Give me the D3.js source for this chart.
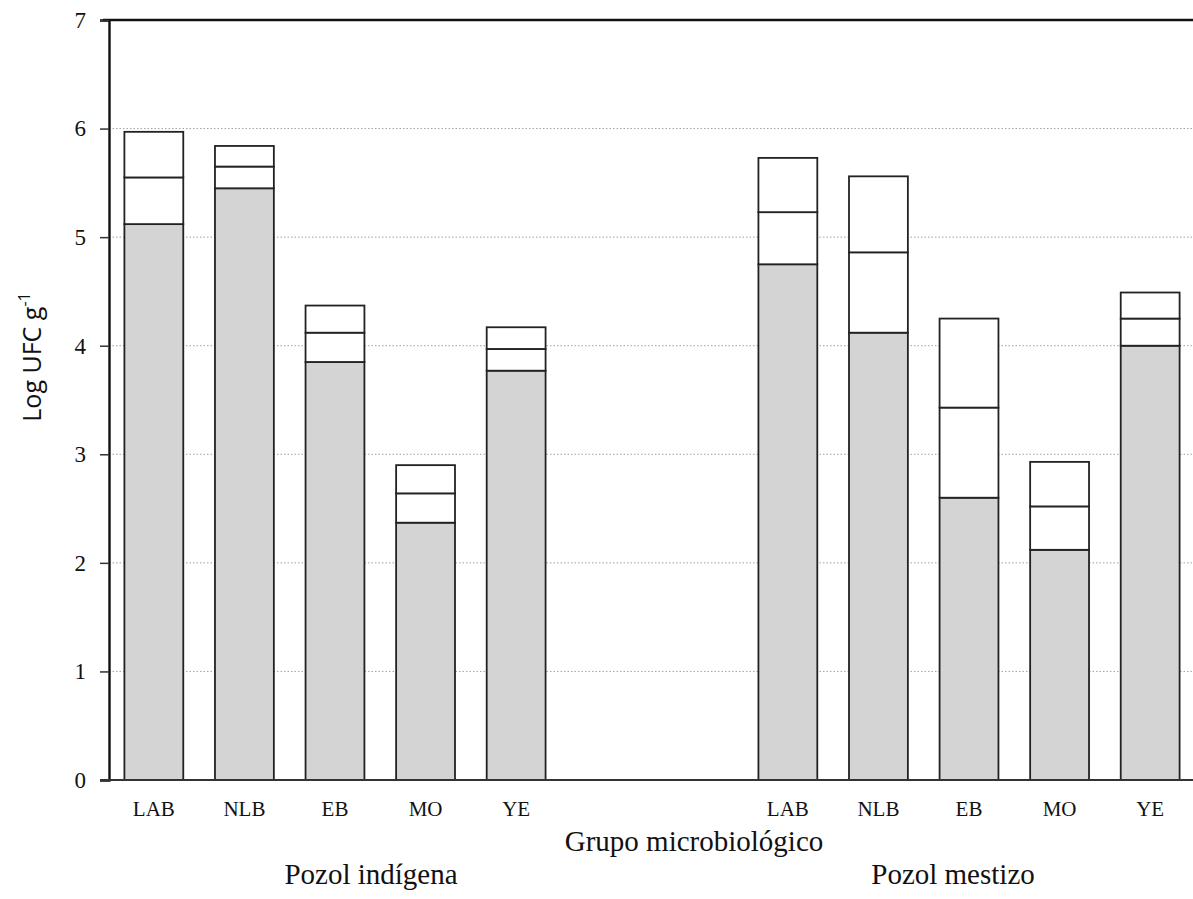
<!DOCTYPE html>
<html>
<head>
<meta charset="utf-8">
<script src="https://cdn.jsdelivr.net/npm/d3@7"></script>
<style>
  body { margin: 0; background: #fff; }
  .tick text { font-family: "Liberation Serif", "Times New Roman", serif; }
</style>
</head>
<body>
<div id="chart"></div>
<script>
// grupos microbiológicos
const grupos = ["LAB", "NLB", "EB", "MO", "YE"];
const pozoles = ["Pozol indígena", "Pozol mestizo"];
// niveles acumulados (Log UFC g-1): base gris, línea media, tope
const indigenaBase  = [5.12, 5.45, 3.85, 2.37, 3.77];
const indigenaMedio = [5.55, 5.65, 4.12, 2.64, 3.97];
const indigenaTope  = [5.97, 5.84, 4.37, 2.90, 4.17];
const mestizoBase   = [4.75, 4.12, 2.60, 2.12, 4.00];
const mestizoMedio  = [5.23, 4.86, 3.43, 2.52, 4.25];
const mestizoTope   = [5.73, 5.56, 4.25, 2.93, 4.49];
const yTicks = [0, 1, 2, 3, 4, 5, 6, 7];

const w = 1193, h = 899;
const padL = 109, padR = 1195, padT = 20, padB = 780;

const rows = [];
grupos.forEach((g, i) => rows.push({key: "i-" + g, label: g, base: indigenaBase[i], medio: indigenaMedio[i], tope: indigenaTope[i]}));
const slots = rows.map(d => d.key).concat(["gap1", "gap2"]);
grupos.forEach((g, i) => {
  rows.push({key: "m-" + g, label: g, base: mestizoBase[i], medio: mestizoMedio[i], tope: mestizoTope[i]});
  slots.push("m-" + g);
});

const svg = d3.select("#chart").append("svg")
  .attr("width", w).attr("height", h);

const xScale = d3.scaleBand()
  .domain(slots)
  .range([padL, padR])
  .paddingInner(0.35)
  .paddingOuter(0.17);

const yScale = d3.scaleLinear()
  .domain([0, 7])
  .range([padB, padT]);

// gridlines
svg.append("g")
  .selectAll("line")
  .data(yTicks.filter(t => t > 0 && t < 7))
  .join("line")
  .attr("x1", padL).attr("x2", w)
  .attr("y1", d => yScale(d)).attr("y2", d => yScale(d))
  .attr("stroke", "#a0a0a0")
  .attr("stroke-width", 1)
  .attr("stroke-dasharray", "1.5,2");

// bars
const bars = svg.append("g").selectAll("g").data(rows).join("g");
const segs = d => [
  {y0: 0, y1: d.base, fill: "#d4d4d4"},
  {y0: d.base, y1: d.medio, fill: "#fff"},
  {y0: d.medio, y1: d.tope, fill: "#fff"}
];
bars.selectAll("rect")
  .data(d => segs(d).map(s => Object.assign({key: d.key}, s)))
  .join("rect")
  .attr("x", s => xScale(s.key))
  .attr("width", xScale.bandwidth())
  .attr("y", s => yScale(s.y1))
  .attr("height", s => yScale(s.y0) - yScale(s.y1))
  .attr("fill", s => s.fill)
  .attr("stroke", "#222")
  .attr("stroke-width", 1.8);

// top frame line
svg.append("line")
  .attr("x1", padL - 6).attr("x2", w)
  .attr("y1", yScale(7)).attr("y2", yScale(7))
  .attr("stroke", "#111").attr("stroke-width", 2.4);

// y axis
const yAxis = d3.axisLeft(yScale).tickValues(yTicks).tickSize(9).tickPadding(14).tickFormat(d3.format("d"));
const ya = svg.append("g")
  .attr("transform", "translate(" + padL + ",0)")
  .call(yAxis);
ya.select(".domain").attr("stroke", "#111").attr("stroke-width", 2.4);
ya.selectAll(".tick line").attr("stroke", "#333").attr("stroke-width", 1.5);
ya.selectAll(".tick text").style("font-size", "23px").attr("fill", "#111");

// x axis
const xAxis = d3.axisBottom(xScale)
  .tickValues(rows.map(d => d.key))
  .tickFormat(k => rows.find(r => r.key === k).label)
  .tickSize(0).tickPadding(21);
const xa = svg.append("g")
  .attr("transform", "translate(0," + padB + ")")
  .call(xAxis);
xa.select(".domain").remove();
xa.selectAll(".tick text").style("font-size", "21px").attr("fill", "#111");
svg.append("line")
  .attr("x1", padL - 9).attr("x2", w)
  .attr("y1", padB).attr("y2", padB)
  .attr("stroke", "#333").attr("stroke-width", 1.8);

// titles
svg.append("text")
  .attr("x", 694).attr("y", 851)
  .attr("text-anchor", "middle")
  .style("font-family", "'Liberation Serif', serif")
  .style("font-size", "29px")
  .attr("fill", "#111")
  .text("Grupo microbiológico");

const groupCenter = idx => {
  const ks = rows.slice(idx * 5, idx * 5 + 5).map(d => d.key);
  return (xScale(ks[0]) + xScale(ks[4]) + xScale.bandwidth()) / 2;
};
svg.append("g").selectAll("text")
  .data(pozoles)
  .join("text")
  .attr("x", (d, i) => groupCenter(i) + (i === 0 ? 36 : -16))
  .attr("y", 884)
  .attr("text-anchor", "middle")
  .style("font-family", "'Liberation Serif', serif")
  .style("font-size", "29px")
  .attr("fill", "#111")
  .text(d => d);

// y label
const yl = svg.append("text")
  .attr("transform", "translate(41,357) rotate(-90)")
  .attr("text-anchor", "middle")
  .style("font-family", "'Open Sans', sans-serif")
  .style("font-size", "25px")
  .attr("fill", "#111");
yl.append("tspan").text("Log UFC g");
yl.append("tspan").attr("dy", -11).style("font-size", "16px").text("-1");
</script>
</body>
</html>
